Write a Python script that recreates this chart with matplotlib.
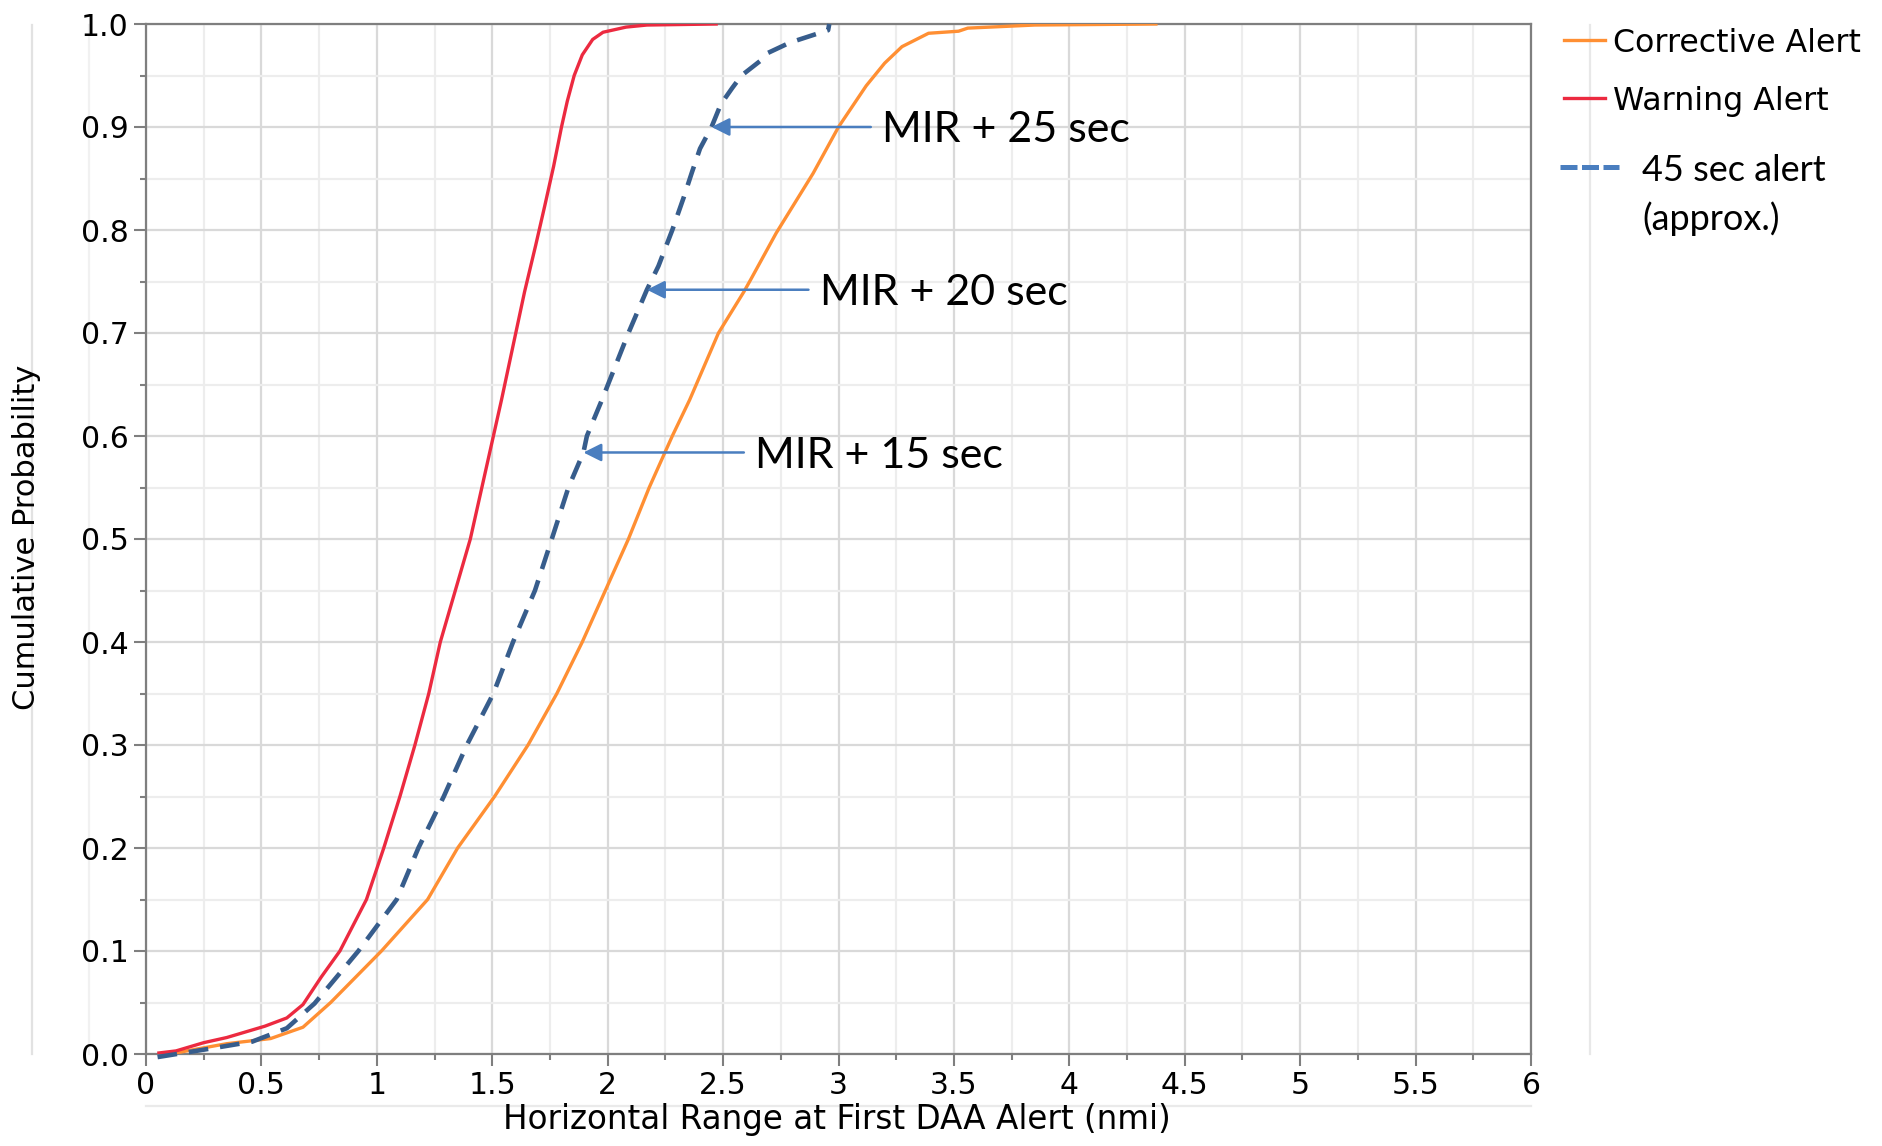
import matplotlib
matplotlib.use("Agg")
import matplotlib.pyplot as plt
from matplotlib.lines import Line2D
from matplotlib.ticker import MultipleLocator, FixedLocator

# ---------------- data ----------------
warning_x = [0.056, 0.13, 0.25, 0.35, 0.515, 0.61, 0.68, 0.76, 0.84, 0.955, 1.03, 1.10,
             1.165, 1.225, 1.275, 1.34, 1.405, 1.455, 1.505, 1.54, 1.64, 1.688, 1.727,
             1.766, 1.80, 1.825, 1.855, 1.89, 1.935, 1.98, 2.08, 2.17, 2.47]
warning_y = [0.001, 0.003, 0.011, 0.016, 0.027, 0.035, 0.048, 0.075, 0.10, 0.15, 0.20, 0.25,
             0.30, 0.35, 0.40, 0.45, 0.50, 0.55, 0.60, 0.635, 0.74, 0.785, 0.823,
             0.862, 0.90, 0.925, 0.95, 0.97, 0.985, 0.992, 0.997, 0.999, 1.0]

corrective_x = [0.13, 0.2, 0.35, 0.54, 0.68, 0.80, 1.02, 1.22, 1.35, 1.51, 1.655, 1.78,
                1.89, 1.99, 2.09, 2.18, 2.28, 2.355, 2.48, 2.59, 2.62, 2.73, 2.89, 3.0,
                3.12, 3.20, 3.275, 3.39, 3.52, 3.56, 3.85, 4.375]
corrective_y = [0.001, 0.004, 0.01, 0.015, 0.026, 0.05, 0.10, 0.15, 0.20, 0.25, 0.30, 0.35,
                0.40, 0.45, 0.50, 0.55, 0.60, 0.635, 0.70, 0.74, 0.752, 0.797, 0.855, 0.90,
                0.94, 0.962, 0.978, 0.991, 0.993, 0.996, 0.999, 1.0]

alert45_x = [0.05, 0.30, 0.46, 0.61, 0.73, 0.92, 1.086, 1.18, 1.29, 1.39, 1.505, 1.59,
             1.685, 1.758, 1.83, 1.895, 1.91, 1.975, 2.09, 2.17, 2.22, 2.28, 2.33, 2.365,
             2.40, 2.45, 2.49, 2.54, 2.58, 2.66, 2.695, 2.79, 2.955, 2.96]
alert45_y = [-0.003, 0.006, 0.012, 0.025, 0.049, 0.10, 0.15, 0.20, 0.25, 0.30, 0.35, 0.40,
             0.45, 0.50, 0.55, 0.584, 0.60, 0.635, 0.70, 0.742, 0.765, 0.80, 0.832, 0.856,
             0.879, 0.90, 0.922, 0.938, 0.95, 0.964, 0.972, 0.982, 0.994, 1.0]

anno_labels = ["MIR + 25 sec", "MIR + 20 sec", "MIR + 15 sec"]
anno_y = [0.90, 0.742, 0.584]
anno_tip_x = [2.45, 2.17, 1.895]
anno_tail_x = [3.14, 2.87, 2.59]
anno_text_x = [3.19, 2.92, 2.64]

legend_labels = ["Corrective Alert", "Warning Alert", "45 sec alert\n(approx.)"]

x_ticks = [0, 0.5, 1, 1.5, 2, 2.5, 3, 3.5, 4, 4.5, 5, 5.5, 6]
x_ticklabels = ["0", "0.5", "1", "1.5", "2", "2.5", "3", "3.5", "4", "4.5", "5", "5.5", "6"]
y_ticks = [0.0, 0.1, 0.2, 0.3, 0.4, 0.5, 0.6, 0.7, 0.8, 0.9, 1.0]
y_ticklabels = ["0.0", "0.1", "0.2", "0.3", "0.4", "0.5", "0.6", "0.7", "0.8", "0.9", "1.0"]

# ---------------- styling ----------------
W, H = 1882, 1146
C_ORANGE = "#FF8F33"
C_RED = "#EC2A40"
C_BLUE = "#375D8C"
C_ARROW = "#4A7EBF"
C_SPINE = "#7F7F7F"
CAL = ["Lato", "DejaVu Sans"]

fig = plt.figure(figsize=(W / 100, H / 100), dpi=100)
ax = fig.add_axes([146 / W, 1 - 1054 / H, (1531 - 146) / W, (1054 - 24) / H])

ax.set_xlim(0, 6)
ax.set_ylim(0, 1)

ax.plot(corrective_x, corrective_y, color=C_ORANGE, lw=2.4, zorder=3)
ax.plot(warning_x, warning_y, color=C_RED, lw=2.4, zorder=4)
blue, = ax.plot(alert45_x, alert45_y, color=C_BLUE, lw=3.3, zorder=5, clip_on=False)
blue.set_dashes([4.3, 2.6])

# annotations
for lab, yy, tip, tail, tx in zip(anno_labels, anno_y, anno_tip_x, anno_tail_x, anno_text_x):
    ax.annotate("", xy=(tip, yy), xytext=(tail, yy),
                arrowprops=dict(arrowstyle="-|>", color=C_ARROW, lw=1.8,
                                mutation_scale=27, shrinkA=0, shrinkB=0), zorder=6)
    ax.text(tx, yy, lab, family=CAL, fontsize=31, ha="left", va="center_baseline",
            color="black", zorder=6)

# ticks and grid
ax.xaxis.set_major_locator(FixedLocator(x_ticks))
ax.set_xticklabels(x_ticklabels)
ax.yaxis.set_major_locator(FixedLocator(y_ticks))
ax.set_yticklabels(y_ticklabels)
ax.xaxis.set_minor_locator(MultipleLocator(0.25))
ax.yaxis.set_minor_locator(MultipleLocator(0.05))
ax.grid(which="major", color="#D9D9D9", lw=1.6, zorder=0)
ax.grid(which="minor", color="#EDEDED", lw=1.6, zorder=0)
ax.set_axisbelow(True)
ax.tick_params(which="major", direction="out", length=8.5, width=1.5, color=C_SPINE,
               labelsize=21.5, pad=4, labelcolor="black")
ax.tick_params(which="minor", direction="out", length=4, width=1.5, color=C_SPINE)
for sp in ax.spines.values():
    sp.set_color(C_SPINE)
    sp.set_linewidth(1.6)

ax.set_xlabel("Horizontal Range at First DAA Alert (nmi)", fontsize=23.5)
ax.xaxis.set_label_coords((837 - 146) / 1385, (1054 - 1120) / 1030)
ax.xaxis.label.set_va("center")
ax.set_ylabel("Cumulative Probability", fontsize=22)
ax.yaxis.set_label_coords((27 - 146) / 1385, (1054 - 537) / 1030)
ax.yaxis.label.set_va("center")

# decorative frame lines of the original graphic
def fline(x0, y0, x1, y1, color, lw):
    fig.add_artist(Line2D([x0 / W, x1 / W], [1 - y0 / H, 1 - y1 / H],
                          transform=fig.transFigure, color=color, lw=lw, zorder=0))

fline(32, 25, 32, 1054, "#E2E2E2", 1.6)
fline(89, 25, 89, 1054, "#F1F1F1", 1.6)
fline(146, 1106, 1531, 1106, "#EAEAEA", 1.6)
fline(1590, 25, 1590, 1054, "#E8E8E8", 1.6)

# legend (outside, right)
leg_colors = [C_ORANGE, C_RED]
leg_y = [40, 98]
for c, yy, lab in zip(leg_colors, leg_y, legend_labels[:2]):
    fline(1564, yy, 1605, yy, c, 2.4)
    fig.text(1613 / W, 1 - yy / H, lab, fontsize=22.8, ha="left", va="center_baseline")
bl = Line2D([1560 / W, 1619 / W], [1 - 167 / H, 1 - 167 / H], transform=fig.transFigure,
            color="#4A7EBF", lw=3.6)
bl.set_dashes([3.4, 0.9])
fig.add_artist(bl)
first, second = legend_labels[2].split("\n")
fig.text(1642 / W, 1 - 167 / H, first, family=CAL, fontsize=26, ha="left", va="center_baseline")
fig.text(1642 / W, 1 - 216 / H, second, family=CAL, fontsize=26, ha="left", va="center_baseline")

fig.savefig("out.png", dpi=100)
